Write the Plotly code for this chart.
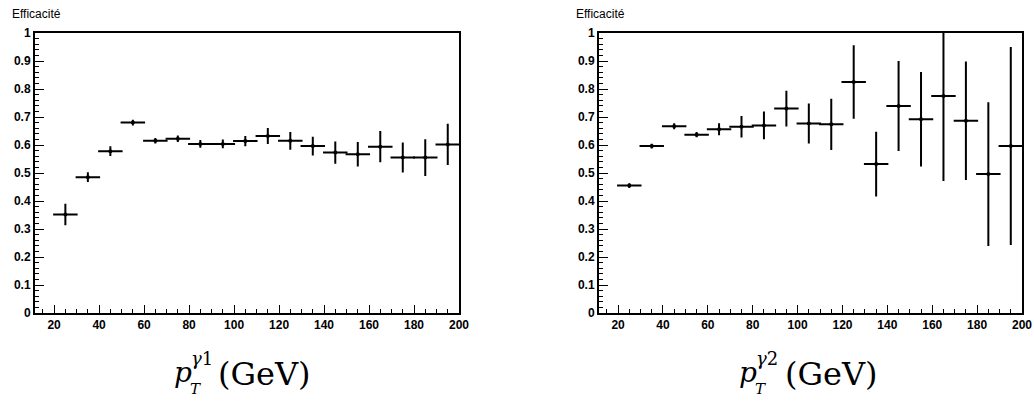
import plotly.graph_objects as go

# ---------------- data ----------------
pt_centers = [25, 35, 45, 55, 65, 75, 85, 95, 105, 115, 125, 135, 145, 155, 165, 175, 185, 195]
bin_half_width = [5] * 18

eff1 = [0.352, 0.485, 0.578, 0.680, 0.615, 0.622, 0.604, 0.604, 0.614, 0.632, 0.615, 0.596,
        0.573, 0.567, 0.594, 0.555, 0.555, 0.602]
err1 = [0.035, 0.014, 0.014, 0.007, 0.006, 0.008, 0.010, 0.012, 0.015, 0.025, 0.028, 0.030,
        0.036, 0.040, 0.052, 0.050, 0.062, 0.070]

eff2 = [0.455, 0.596, 0.667, 0.637, 0.656, 0.665, 0.670, 0.730, 0.677, 0.674, 0.825, 0.532,
        0.739, 0.692, 0.775, 0.687, 0.496, 0.596]
err2 = [0.005, 0.005, 0.007, 0.006, 0.018, 0.035, 0.046, 0.060, 0.068, 0.088, 0.128, 0.112,
        0.157, 0.165, 0.300, 0.208, 0.253, 0.350]

y_title = "Efficacité"
x_ticks = [20, 40, 60, 80, 100, 120, 140, 160, 180, 200]
y_ticks = [0, 0.1, 0.2, 0.3, 0.4, 0.5, 0.6, 0.7, 0.8, 0.9, 1]

# page is 1034x413; the body margin is removed by a post script below
W, H = 1034, 413


def px(x):
    return x / W


def py(y):
    return 1 - y / H


fig = go.Figure()

for eff, err, xa, ya in [(eff1, err1, "x", "y"), (eff2, err2, "x2", "y2")]:
    fig.add_trace(go.Scatter(
        x=pt_centers, y=eff, mode="markers",
        marker=dict(color="black", size=4),
        error_y=dict(type="data", array=err, color="black", thickness=2, width=1),
        error_x=dict(type="data", array=bin_half_width, color="black", thickness=2, width=1),
        xaxis=xa, yaxis=ya, showlegend=False,
    ))

tickfont = dict(family="Liberation Sans", size=12, color="black", weight="bold")
xaxis_common = dict(
    range=[11.5, 200], tickvals=x_ticks, ticks="inside", ticklen=8, tickwidth=1,
    tickcolor="black", showline=True, linecolor="black", linewidth=2, mirror=True,
    showgrid=False, zeroline=False, tickfont=tickfont, automargin=False,
    ticklabeloverflow="allow",
    minor=dict(ticks="inside", dtick=5, tick0=0, ticklen=4, tickcolor="black", showgrid=False),
)
yaxis_common = dict(
    range=[0, 1], tickvals=y_ticks, ticks="inside", ticklen=9, tickwidth=1,
    tickcolor="black", showline=True, linecolor="black", linewidth=2, mirror=True,
    showgrid=False, zeroline=False, tickfont=tickfont, automargin=False,
    minor=dict(ticks="inside", dtick=0.02, tick0=0, ticklen=4, tickcolor="black", showgrid=False),
)

ydom = [py(313), py(33)]
fig.update_layout(
    width=W, height=H, margin=dict(l=0, r=0, t=0, b=0, autoexpand=False),
    paper_bgcolor="white", plot_bgcolor="white",
    xaxis=dict(domain=[px(35), px(459)], anchor="y", **xaxis_common),
    yaxis=dict(domain=ydom, anchor="x", **yaxis_common),
    xaxis2=dict(domain=[px(599), px(1022)], anchor="y2", **xaxis_common),
    yaxis2=dict(domain=ydom, anchor="x2", **yaxis_common),
)

ann = []
# y titles
for xl in [10, 574]:
    ann.append(dict(x=px(xl), y=py(14), xref="paper", yref="paper", xanchor="left", yanchor="middle",
                    text=y_title, showarrow=False,
                    font=dict(family="Liberation Sans", size=12, color="black")))

serif = "DejaVu Serif"
# x titles built from pieces: p, superscript, subscript, (GeV)
for (xp, sup, xsup, xsub, xgev) in [(172, "γ1", 189, 188, 216), (737, "γ2", 754, 753, 783)]:
    ann.append(dict(x=px(xp), y=py(372), xref="paper", yref="paper", xanchor="left", yanchor="middle",
                    text="<i>p</i>", showarrow=False, font=dict(family=serif, size=28, color="black")))
    ann.append(dict(x=px(xsup), y=py(358), xref="paper", yref="paper", xanchor="left", yanchor="middle",
                    text="<i>γ</i>" + sup[1:], showarrow=False, font=dict(family=serif, size=18, color="black")))
    ann.append(dict(x=px(xsub), y=py(389), xref="paper", yref="paper", xanchor="left", yanchor="middle",
                    text="<i>T</i>", showarrow=False, font=dict(family=serif, size=15, color="black")))
    ann.append(dict(x=px(xgev), y=py(374), xref="paper", yref="paper", xanchor="left", yanchor="middle",
                    text="(GeV)", showarrow=False, font=dict(family=serif, size=32, color="black")))

fig.update_layout(annotations=ann)
fig.write_html("out.html", config={"displayModeBar": False},
               post_script="document.body.style.margin='0';document.body.style.overflow='hidden';")
